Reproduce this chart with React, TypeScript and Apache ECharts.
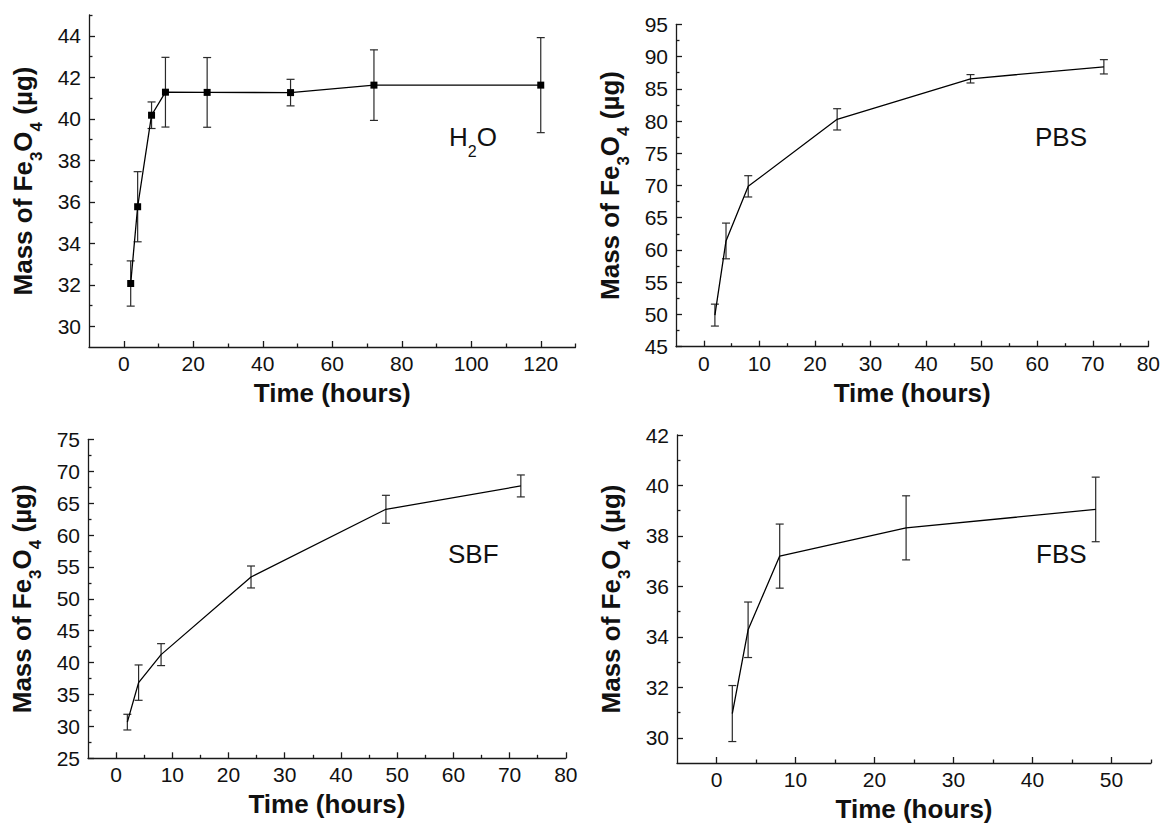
import React, { useEffect, useRef } from 'react';
import * as echarts from 'echarts';

// ---------- data ----------
const h2oTime = [2, 4, 8, 12, 24, 48, 72, 120];
const h2oMass = [32.06, 35.76, 40.17, 41.28, 41.27, 41.26, 41.62, 41.62];
const h2oErr = [1.09, 1.69, 0.64, 1.68, 1.68, 0.64, 1.7, 2.29];

const pbsTime = [2, 4, 8, 24, 48, 72];
const pbsMass = [49.9, 61.4, 69.87, 80.26, 86.55, 88.41];
const pbsErr = [1.7, 2.77, 1.65, 1.65, 0.65, 1.11];

const sbfTime = [2, 4, 8, 24, 48, 72];
const sbfMass = [30.67, 36.86, 41.25, 53.42, 64.03, 67.69];
const sbfErr = [1.23, 2.77, 1.72, 1.72, 2.19, 1.72];

const fbsTime = [2, 4, 8, 24, 48];
const fbsMass = [30.96, 34.28, 37.2, 38.32, 39.05];
const fbsErr = [1.11, 1.1, 1.27, 1.27, 1.28];

// tick values
const h2oXMajor = [0, 20, 40, 60, 80, 100, 120];
const h2oXMinor = [10, 30, 50, 70, 90, 110, 130];
const h2oYMajor = [30, 32, 34, 36, 38, 40, 42, 44];
const h2oYMinor = [31, 33, 35, 37, 39, 41, 43, 45];

const pbsXMajor = [0, 10, 20, 30, 40, 50, 60, 70, 80];
const pbsXMinor = [5, 15, 25, 35, 45, 55, 65, 75];
const pbsYMajor = [45, 50, 55, 60, 65, 70, 75, 80, 85, 90, 95];
const pbsYMinor = [47.5, 52.5, 57.5, 62.5, 67.5, 72.5, 77.5, 82.5, 87.5, 92.5];

const sbfXMajor = [0, 10, 20, 30, 40, 50, 60, 70, 80];
const sbfXMinor = [5, 15, 25, 35, 45, 55, 65, 75];
const sbfYMajor = [25, 30, 35, 40, 45, 50, 55, 60, 65, 70, 75];
const sbfYMinor = [27.5, 32.5, 37.5, 42.5, 47.5, 52.5, 57.5, 62.5, 67.5, 72.5];

const fbsXMajor = [0, 10, 20, 30, 40, 50];
const fbsXMinor = [5, 15, 25, 35, 45, 55];
const fbsYMajor = [30, 32, 34, 36, 38, 40, 42];
const fbsYMinor = [31, 33, 35, 37, 39, 41];

const labels = ['H2O', 'PBS', 'SBF', 'FBS'];

// ---------- style ----------
const FONT = "'Liberation Sans', Arial, Helvetica, sans-serif";
const AXIS_COLOR = '#1a1a1a';
const TEXT_COLOR = '#111';

type Panel = {
  grid: { left: number; top: number; width: number; height: number };
  xRange: [number, number];
  yRange: [number, number];
  xMajor: number[];
  xMinor: number[];
  yMajor: number[];
  yMinor: number[];
  time: number[];
  mass: number[];
  err: number[];
  markers: boolean;
};

const panels: Panel[] = [
  {
    grid: { left: 89, top: 15, width: 486.5, height: 332 },
    xRange: [-10, 130], yRange: [29, 45],
    xMajor: h2oXMajor, xMinor: h2oXMinor, yMajor: h2oYMajor, yMinor: h2oYMinor,
    time: h2oTime, mass: h2oMass, err: h2oErr, markers: true,
  },
  {
    grid: { left: 676, top: 24.3, width: 477.6, height: 322.4 },
    xRange: [-5, 80], yRange: [45, 95],
    xMajor: pbsXMajor, xMinor: pbsXMinor, yMajor: pbsYMajor, yMinor: pbsYMinor,
    time: pbsTime, mass: pbsMass, err: pbsErr, markers: false,
  },
  {
    grid: { left: 88, top: 439.3, width: 477.8, height: 319 },
    xRange: [-5, 80], yRange: [25, 75],
    xMajor: sbfXMajor, xMinor: sbfXMinor, yMajor: sbfYMajor, yMinor: sbfYMinor,
    time: sbfTime, mass: sbfMass, err: sbfErr, markers: false,
  },
  {
    grid: { left: 677, top: 435, width: 474, height: 328.6 },
    xRange: [-5, 55], yRange: [29, 42],
    xMajor: fbsXMajor, xMinor: fbsXMinor, yMajor: fbsYMajor, yMinor: fbsYMinor,
    time: fbsTime, mass: fbsMass, err: fbsErr, markers: false,
  },
];

const annot = [
  { x: 449, y: 115 },
  { x: 1035, y: 115 },
  { x: 448, y: 532 },
  { x: 1036, y: 532 },
];

const lineStyle = { color: AXIS_COLOR, width: 1.3 };

function buildOption() {
  const grid: any[] = [];
  const xAxis: any[] = [];
  const yAxis: any[] = [];
  const series: any[] = [];

  panels.forEach((p, i) => {
    grid.push({ ...p.grid, containLabel: false });
    xAxis.push({
      type: 'value', gridIndex: i, min: p.xRange[0], max: p.xRange[1], position: 'bottom',
      axisLine: { show: true, onZero: false, lineStyle },
      axisTick: { show: true, inside: true, length: 6, customValues: p.xMajor, lineStyle },
      axisLabel: { show: true, customValues: p.xMajor, margin: 6, fontSize: 21, color: TEXT_COLOR, fontFamily: FONT },
      splitLine: { show: false },
      name: 'Time (hours)', nameLocation: 'middle', nameGap: 33,
      nameTextStyle: { fontSize: 26, fontWeight: 'bold', color: TEXT_COLOR, fontFamily: FONT },
    });
    xAxis.push({
      type: 'value', gridIndex: i, min: p.xRange[0], max: p.xRange[1], position: 'bottom',
      axisLine: { show: false, onZero: false },
      axisTick: { show: true, inside: true, length: 3.5, customValues: p.xMinor, lineStyle },
      axisLabel: { show: false },
      splitLine: { show: false },
    });
    yAxis.push({
      type: 'value', gridIndex: i, min: p.yRange[0], max: p.yRange[1], position: 'left',
      axisLine: { show: true, onZero: false, lineStyle },
      axisTick: { show: true, inside: true, length: 6, customValues: p.yMajor, lineStyle },
      axisLabel: { show: true, customValues: p.yMajor, margin: 8, fontSize: 21, color: TEXT_COLOR, fontFamily: FONT },
      splitLine: { show: false },
      name: '{b|Mass of Fe}{s|3}{b|O}{s|4}{b| (µg)}',
      nameLocation: 'middle', nameRotate: 90, nameGap: 44,
      nameTextStyle: {
        rich: {
          b: { fontSize: 26, fontWeight: 'bold', fontFamily: FONT, color: TEXT_COLOR, lineHeight: 44, verticalAlign: 'middle' },
          s: { fontSize: 17, fontWeight: 'bold', fontFamily: FONT, color: TEXT_COLOR, lineHeight: 44, verticalAlign: 'bottom' },
        },
      },
    });
    yAxis.push({
      type: 'value', gridIndex: i, min: p.yRange[0], max: p.yRange[1], position: 'left',
      axisLine: { show: false, onZero: false },
      axisTick: { show: true, inside: true, length: 3.5, customValues: p.yMinor, lineStyle },
      axisLabel: { show: false },
      splitLine: { show: false },
    });

    series.push({
      type: 'custom',
      xAxisIndex: 2 * i, yAxisIndex: 2 * i,
      coordinateSystem: 'cartesian2d',
      data: p.time.map((t, k) => [t, p.mass[k], p.err[k]]),
      encode: { x: 0, y: 1 },
      silent: true,
      renderItem: (params: any, api: any) => {
        const x = api.value(0);
        const m = api.value(1);
        const e = api.value(2);
        const top = api.coord([x, m + e]);
        const bot = api.coord([x, m - e]);
        const hw = 4;
        const st = { stroke: '#2a2a2a', lineWidth: 1.2 };
        return {
          type: 'group',
          children: [
            { type: 'line', shape: { x1: top[0], y1: top[1], x2: bot[0], y2: bot[1] }, style: st },
            { type: 'line', shape: { x1: top[0] - hw, y1: top[1], x2: top[0] + hw, y2: top[1] }, style: st },
            { type: 'line', shape: { x1: bot[0] - hw, y1: bot[1], x2: bot[0] + hw, y2: bot[1] }, style: st },
          ],
        };
      },
    });
    series.push({
      type: 'line',
      xAxisIndex: 2 * i, yAxisIndex: 2 * i,
      data: p.time.map((t, k) => [t, p.mass[k]]),
      symbol: p.markers ? 'rect' : 'none',
      symbolSize: 7,
      showSymbol: p.markers,
      itemStyle: { color: '#000' },
      lineStyle: { color: '#000', width: 1.3 },
      silent: true,
    });
  });

  const graphic = labels.map((lab, i) => {
    const txt = lab === 'H2O' ? '{a|H}{s|2}{a|O}' : `{a|${lab}}`;
    return {
      type: 'text',
      x: annot[i].x,
      y: annot[i].y,
      silent: true,
      style: {
        text: txt,
        fill: TEXT_COLOR,
        rich: {
          a: { fontSize: 26, fontFamily: FONT, fill: TEXT_COLOR, color: TEXT_COLOR, lineHeight: 44, verticalAlign: 'middle' },
          s: { fontSize: 16, fontFamily: FONT, fill: TEXT_COLOR, color: TEXT_COLOR, lineHeight: 44, verticalAlign: 'bottom' },
        },
      },
    };
  });

  return {
    animation: false,
    backgroundColor: '#ffffff',
    textStyle: { fontFamily: FONT },
    grid,
    xAxis,
    yAxis,
    series,
    graphic,
  };
}

export default function App() {
  const ref = useRef<HTMLDivElement>(null);
  useEffect(() => {
    if (!ref.current) return;
    const chart = echarts.init(ref.current, undefined, { renderer: 'svg' });
    chart.setOption(buildOption() as any);
    return () => chart.dispose();
  }, []);
  return (
    <div
      ref={ref}
      style={{ position: 'absolute', left: 0, top: 0, width: 1163, height: 823, background: '#fff' }}
    />
  );
}
